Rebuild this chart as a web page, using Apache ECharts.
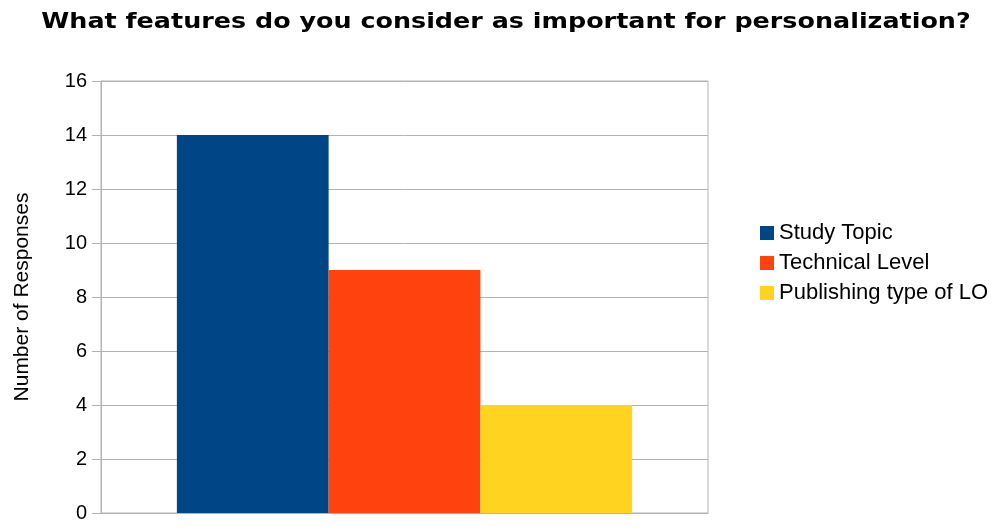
<!DOCTYPE html>
<html>
<head>
<meta charset="utf-8">
<script src="https://cdn.jsdelivr.net/npm/echarts@6/dist/echarts.min.js"></script>
<style>
  html, body { margin: 0; padding: 0; background: #fff; }
  #chart { width: 998px; height: 527px; }
</style>
</head>
<body>
<div id="chart"></div>
<script>
var titleText = 'What features do you consider as important for personalization?'
var categories = ['']
var seriesNames = ['Study Topic', 'Technical Level', 'Publishing type of LO']
var seriesValues = [[14], [9], [4]]
var seriesColors = ['#004586', '#ff420e', '#ffd320']

var chart = echarts.init(document.getElementById('chart'))

var series = seriesNames.map(function (name, i) {
  return {
    name: name,
    type: 'bar',
    data: seriesValues[i],
    itemStyle: { color: seriesColors[i] },
    barGap: '0%',
    barCategoryGap: '25%'
  }
})

var option = {
  animation: false,
  // title is drawn as graphic text so it can be stretched like the original
  graphic: [{
    type: 'text',
    x: 506,
    y: 23,
    scaleX: 1.21,
    style: {
      text: titleText,
      font: 'bold 21px "DejaVu Sans"',
      fill: '#000',
      textAlign: 'center',
      textVerticalAlign: 'middle'
    }
  }],
  legend: {
    orient: 'vertical',
    left: 755,
    top: 217,
    itemWidth: 14,
    itemHeight: 14,
    itemGap: 8,
    icon: 'rect',
    textStyle: {
      fontFamily: 'Liberation Sans',
      fontSize: 22,
      color: '#000',
      padding: [0, 0, 0, 0]
    },
    data: seriesNames
  },
  grid: {
    left: 101,
    right: 290,
    top: 81,
    bottom: 14,
    show: true,
    borderColor: '#b3b3b3',
    borderWidth: 1,
    containLabel: false
  },
  xAxis: {
    type: 'category',
    data: categories,
    axisLine: { lineStyle: { color: '#b3b3b3' } },
    axisTick: { show: false },
    axisLabel: { show: false }
  },
  yAxis: {
    type: 'value',
    min: 0,
    max: 16,
    interval: 2,
    name: 'Number of Responses',
    nameLocation: 'middle',
    nameGap: 68,
    nameTextStyle: {
      fontFamily: 'Liberation Sans',
      fontSize: 21,
      color: '#000'
    },
    axisLine: { show: true, lineStyle: { color: '#b3b3b3' } },
    axisTick: { show: true, length: 9, lineStyle: { color: '#b3b3b3' } },
    axisLabel: {
      fontFamily: 'Liberation Sans',
      fontSize: 20,
      color: '#000',
      margin: 14
    },
    splitLine: { lineStyle: { color: '#b3b3b3' } }
  },
  series: series
}

chart.setOption(option)
</script>
</body>
</html>
